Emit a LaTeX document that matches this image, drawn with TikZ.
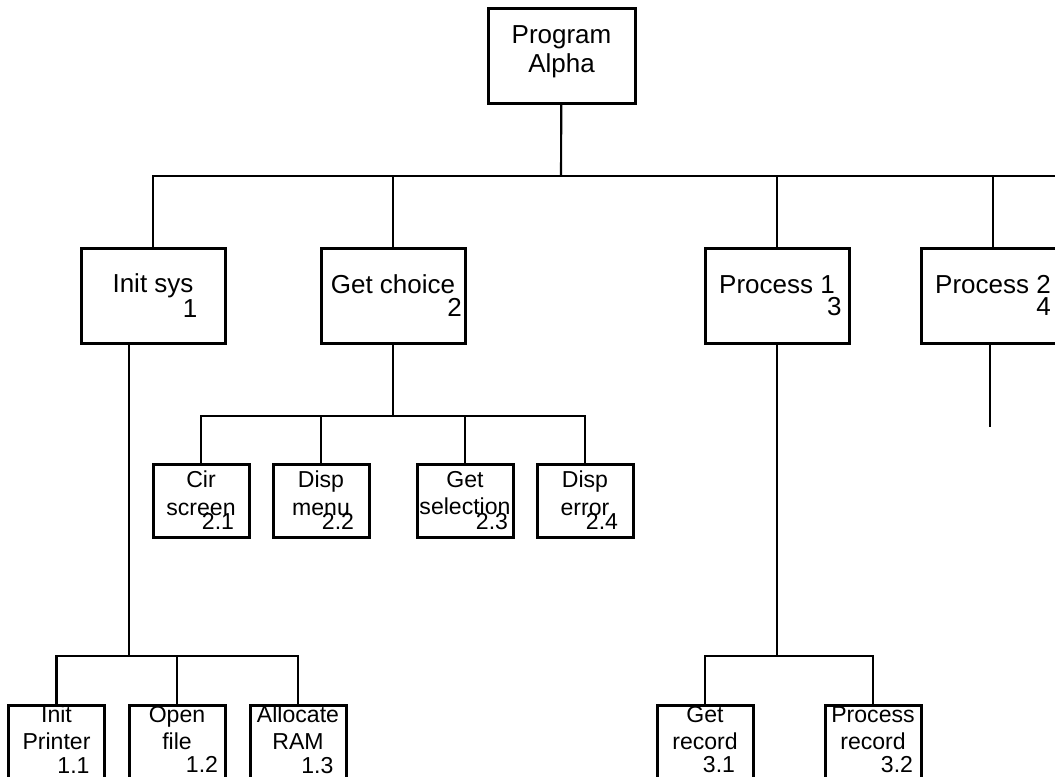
\documentclass[tikz,border=0pt]{standalone}
\usepackage{fontspec}
\setmainfont{Liberation Sans}
\usepackage{tikz}
\usetikzlibrary{positioning, calc}
\definecolor{inkblack}{RGB}{0,0,0}
\newcommand{\modnum}[2][49.5pt]{\makebox[#1][r]{#2}}
\tikzset{
  wire/.style={draw=inkblack, line width=1.6pt},
}

\begin{document}
\begin{tikzpicture}[
  x=0.75pt,y=-0.75pt,
  topbox/.style={
    rectangle, draw=inkblack, line width=2.25pt, fill=white,
    minimum width=110.25pt, minimum height=71.25pt, inner sep=0pt,
    align=center, text depth=10pt, font=\fontsize{19.5}{22}\selectfont
  },
  midbox/.style={
    rectangle, draw=inkblack, line width=2.25pt, fill=white,
    minimum width=108pt, minimum height=71.25pt, inner sep=0pt,
    align=right, font=\fontsize{19.5}{16.8}\selectfont
  },
  leafbox/.style={
    rectangle, draw=inkblack, line width=2.25pt, fill=white,
    minimum width=72pt, minimum height=54.75pt, inner sep=0pt,
    align=center, font=\fontsize{17.3}{20.5}\selectfont
  },
  lowbox/.style={leafbox, text depth=3pt}
]
\clip (0,0) rectangle (1055,776);

% ---- fixed positions (px, y down) ----
\node[topbox] (prog) at (561.5,55.5) {Program\\Alpha};

\node[midbox] (init)  at (153,295.5) {Init sys\\1\kern-3pt};
\node[midbox] (getc)  at (393,295.5) {Get choice\\2\kern-5pt};
\node[midbox] (proc1) at (777,295.5) {Process 1\\3\kern-5pt};
\node[midbox] (proc2) at (993,295.5) {Process 2\\4};

\node[leafbox] (clr)   at (201,500.5) {Cir\\screen\\[-9.5pt]\modnum{2.1}};
\node[leafbox] (dmenu) at (321,500.5) {Disp\\menu\\[-9.5pt]\modnum{2.2}};
\node[leafbox] (gsel)  at (465,500.5) {Get\\selection\\[-9.5pt]\modnum[64.5pt]{2.3}};
\node[leafbox] (derr)  at (585,500.5) {Disp\\error\\[-9.5pt]\modnum{2.4}};

\node[lowbox] (iprn)  at (56.5,741.5) {Init\\Printer\\[-3pt]\modnum{1.1}};
\node[lowbox] (ofile) at (177,741.5)  {Open\\file\\[-3pt]\modnum[61.5pt]{1.2}};
\node[lowbox] (aram)  at (298,741.5)  {Allocate\\RAM\\[-3pt]\modnum[53pt]{1.3}};
\node[lowbox] (grec)  at (705,741.5)  {Get\\record\\[-3pt]\modnum[45pt]{3.1}};
\node[lowbox] (prec)  at (873,741.5)  {Process\\record\\[-3pt]\modnum[60pt]{3.2}};

% ---- bus points ----
\coordinate (mainbus)   at (561,176);
\coordinate (busend)    at (1060,176);
\coordinate (choicebus) at (393,416);
\coordinate (initbus)   at (129,656);
\coordinate (procbus)   at (777,656);
\coordinate (p2end)     at (990,427);

% ---- connectors ----
\draw[wire] (prog) -- (mainbus);
\draw[wire] (init.north) |- (busend);
\draw[wire] (getc.north) -- (getc.north |- mainbus);
\draw[wire] (proc1.north) -- (proc1.north |- mainbus);
\draw[wire] (proc2.north) -- (proc2.north |- mainbus);

\draw[wire] (getc) -- (choicebus);
\draw[wire] (clr.north) |- (choicebus) -| (derr.north);
\draw[wire] (dmenu.north) -- (dmenu.north |- choicebus);
\draw[wire] (gsel.north) -- (gsel.north |- choicebus);

\draw[wire] (init.south -| initbus) -- (initbus);
\draw[wire] (iprn.north) |- (initbus) -| (aram.north);
\draw[wire] (ofile.north) -- (ofile.north |- initbus);

\draw[wire] (proc1) -- (procbus);
\draw[wire] (grec.north) |- (procbus) -| (prec.north);

\draw[wire] (proc2.south -| p2end) -- (p2end);

\end{tikzpicture}
\end{document}
